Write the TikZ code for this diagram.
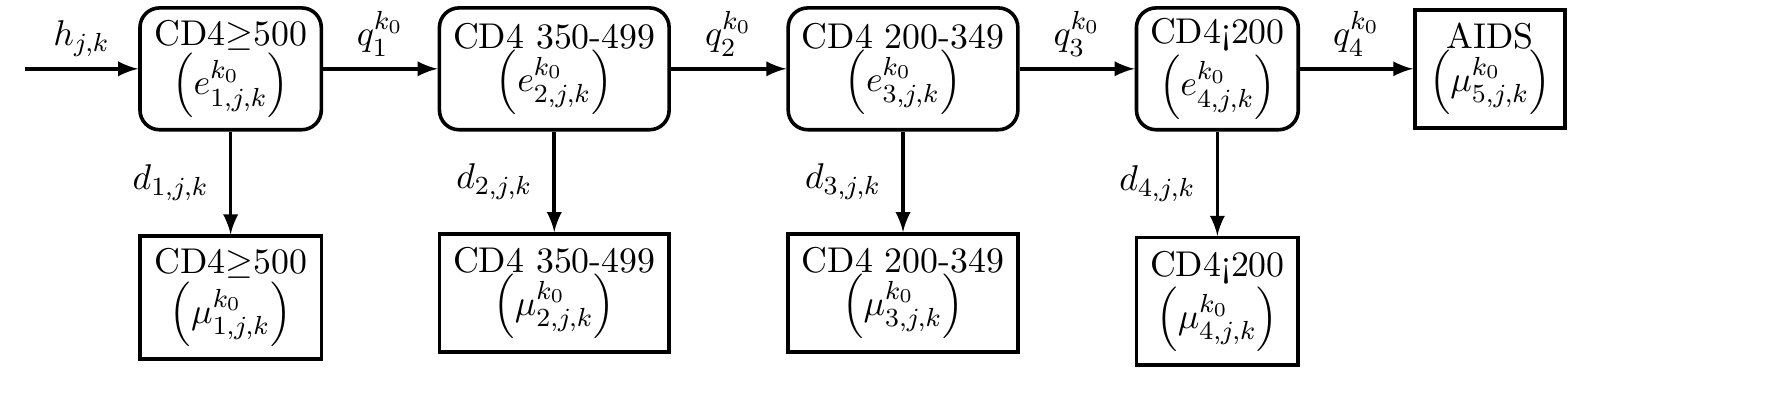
\documentclass[tikz,border=0pt]{standalone}
\usepackage{amsmath}
\usepackage{amssymb}
\usetikzlibrary{arrows}

\begin{document}
\begin{tikzpicture}[
    font=\fontsize{10.95}{13}\selectfont,
    state/.style={draw,line width=1.1pt,rounded corners=6pt,align=center,
                  minimum height=1.31cm,inner sep=1pt},
    absorb/.style={draw,line width=1.1pt,align=center,
                   minimum height=1.27cm,inner sep=1pt},
    flow/.style={-latex,line width=1.1pt},
    ]

    % Bounding box
    \useasboundingbox (0,0) rectangle (19.14,-4.47);

    % Top row of states
    \node[state,minimum width=1.95cm] (s1) at (2.48,-0.74)
        {CD4$\geq$500\\$\left(e^{k_0}_{1,j,k}\right)$};
    \node[state,minimum width=2.47cm] (s2) at (5.96,-0.74)
        {CD4 350-499\\$\left(e^{k_0}_{2,j,k}\right)$};
    \node[state,minimum width=2.47cm] (s3) at (9.71,-0.74)
        {CD4 200-349\\$\left(e^{k_0}_{3,j,k}\right)$};
    \node[state,minimum width=1.74cm] (s4) at (13.09,-0.74)
        {CD4¡200\\$\left(e^{k_0}_{4,j,k}\right)$};
    \node[absorb,minimum width=1.61cm] (aids) at (16.02,-0.74)
        {AIDS\\$\left(\mu^{k_0}_{5,j,k}\right)$};

    % Bottom row (deaths)
    \node[absorb,minimum width=1.95cm,minimum height=1.32cm] (m1) at (2.48,-3.2)
        {CD4$\geq$500\\$\left(\mu^{k_0}_{1,j,k}\right)$};
    \node[absorb,minimum width=2.47cm] (m2) at (5.96,-3.15)
        {CD4 350-499\\$\left(\mu^{k_0}_{2,j,k}\right)$};
    \node[absorb,minimum width=2.47cm] (m3) at (9.71,-3.15)
        {CD4 200-349\\$\left(\mu^{k_0}_{3,j,k}\right)$};
    \node[absorb,minimum width=1.74cm,minimum height=1.37cm] (m4) at (13.09,-3.24)
        {CD4¡200\\$\left(\mu^{k_0}_{4,j,k}\right)$};

    % Entry
    \coordinate (in) at (0.27,-0.74);
    \draw[flow] (in) -- node[above]{$h_{j,k}$} (s1);

    % Progression
    \draw[flow] (s1) -- node[above]{$q^{k_0}_1$} (s2);
    \draw[flow] (s2) -- node[above]{$q^{k_0}_2$} (s3);
    \draw[flow] (s3) -- node[above]{$q^{k_0}_3$} (s4);
    \draw[flow] (s4) -- node[above]{$q^{k_0}_4$} (aids);

    % Deaths
    \draw[flow] (s1) -- node[left,xshift=-1mm]{$d_{1,j,k}$} (m1);
    \draw[flow] (s2) -- node[left,xshift=-1mm]{$d_{2,j,k}$} (m2);
    \draw[flow] (s3) -- node[left,xshift=-1mm]{$d_{3,j,k}$} (m3);
    \draw[flow] (s4) -- node[left,xshift=-1mm]{$d_{4,j,k}$} (m4);
\end{tikzpicture}
\end{document}
